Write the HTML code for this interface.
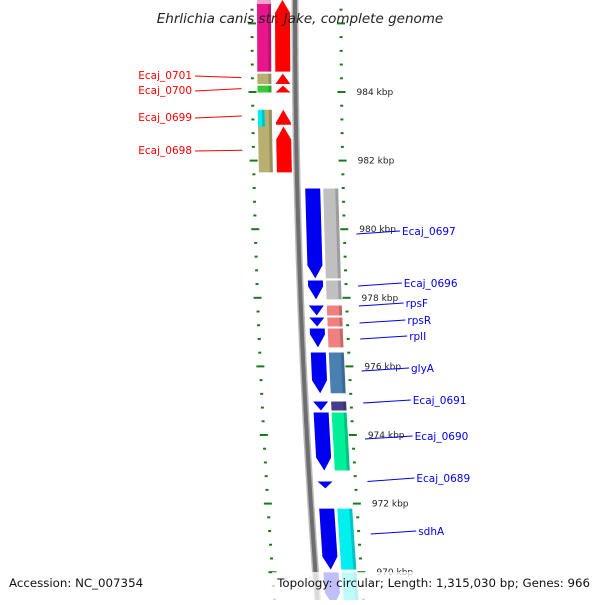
<!DOCTYPE html>
<html><head><meta charset="utf-8"><style>
body{margin:0;background:#fff}
svg text{font-family:"DejaVu Sans","Liberation Sans",sans-serif}
</style></head><body>
<svg id="map" width="600" height="600" viewBox="0 0 600 600" xmlns="http://www.w3.org/2000/svg"></svg>
<script>
// ---- data (kbp) ----
const tickStartKbp = 969.2;
const tickEndKbp = 987.0;
const tickStepKbp = 0.4;
const tickLabels = [984, 982, 980, 978, 976, 974, 972, 970];
// left strand genes (arrow pointing up)
const leftNames = ["", "Ecaj_0701", "Ecaj_0700", "Ecaj_0699", "Ecaj_0698"];
const leftStart = [986.7, 984.55, 984.20, 983.50, 983.01];
const leftEnd   = [984.58, 984.22, 983.97, 983.03, 981.64];
const leftColors = ["#e8168a", "#b8b070", "#38c838", "#b8b070", "#b8b070"];
// right strand genes (arrow pointing down)
const rightNames = ["Ecaj_0697", "Ecaj_0696", "rpsF", "rpsR", "rplI", "glyA", "Ecaj_0691", "Ecaj_0690", "Ecaj_0689", "sdhA", ""];
const rightStart = [981.20, 978.52, 977.79, 977.44, 977.12, 976.42, 974.99, 974.67, 972.66, 971.87, 970.01];
const rightEnd   = [978.55, 977.94, 977.47, 977.15, 976.54, 975.20, 974.70, 972.95, 972.43, 970.06, 969.0];
const rightColors = ["#c0c0c0", "#c0c0c0", "#f08080", "#f08080", "#f08080", "#4a80b0", "#483d8b", "#00f09a", null, "#00f0f0", "#00f0f0"];
// label positions
const leftLabelY = [null, 76, 91, 118, 151];
const leftLabelAnchorKbp = [null, 984.42, 984.10, 983.3, 982.3];
const rightLabelY = [231, 283, 303, 320, 336, 368, 400, 436, 478, 531, null];

// ---- axis functions ----
const Y0 = 92, K0 = 984, PX = 34.3;
function yOf(k){ return Y0 + (K0 - k) * PX; }
function bb(y){ return 295 + 6.25e-5 * y * y; }

const svg = document.getElementById('map');
const NS = "http://www.w3.org/2000/svg";
function mk(tag, attrs){ const e = document.createElementNS(NS, tag); for (const a in attrs) e.setAttribute(a, attrs[a]); svg.appendChild(e); return e; }
function pts(arr){ return arr.map(p => p[0].toFixed(1) + "," + p[1].toFixed(1)).join(" "); }

// backbone
let bpath = "";
for (let y = -5; y <= 605; y += 5) bpath += (y === -5 ? "M" : "L") + bb(y).toFixed(1) + "," + y;
let e = mk("path", {d: bpath, stroke: "#b8b8b8", "stroke-width": 7, fill: "none"});


e = mk("path", {d: bpath, stroke: "#6e6e6e", "stroke-width": 4, fill: "none"});



// ticks
const nTicks = Math.round((tickEndKbp - tickStartKbp) / tickStepKbp);
for (let i = 0; i <= nTicks; i++) {
  const k = tickStartKbp + i * tickStepKbp;
  const y = yOf(k);
  const k10 = Math.round(k * 10);
  const major = k10 % 20 === 0;
  [-43, 46].forEach(d => {
    const x = bb(y) + d;
    const r = mk("rect", {x: major ? x - 4 : x - 1.5, y: y - 1, width: major ? 8 : 3, height: 2, fill: "#1a7a1a"});
    
    
  });
}
tickLabels.forEach(k => {
  const y = yOf(k);
  const t = mk("text", {x: bb(y) + 61, y: y + 3, "font-size": 9, fill: "#222"});
  t.textContent = k + " kbp";
  
  
});

function bar(y1, y2, d1, d2, color, name){
  const p = mk("polygon", {points: pts([[bb(y1)+d1,y1],[bb(y1)+d2,y1],[bb(y2)+d2,y2],[bb(y2)+d1,y2]]), fill: color});
  
  
  const s = mk("polygon", {points: pts([[bb(y1)+d2-3,y1],[bb(y1)+d2,y1],[bb(y2)+d2,y2],[bb(y2)+d2-3,y2]]), fill: "rgba(0,0,0,0.18)"});
  
  
}
function arrow(y1, y2, d1, d2, color, up, name){
  const head = Math.min(13, y2 - y1);
  let P;
  const m = (d1 + d2) / 2;
  if (up) {
    const yh = y1 + head;
    P = [[bb(y1)+m,y1],[bb(yh)+d2,yh],[bb(y2)+d2,y2],[bb(y2)+d1,y2],[bb(yh)+d1,yh]];
  } else {
    const yh = y2 - head;
    P = [[bb(y1)+d1,y1],[bb(y1)+d2,y1],[bb(yh)+d2,yh],[bb(y2)+m,y2],[bb(yh)+d1,yh]];
  }
  const p = mk("polygon", {points: pts(P), fill: color});
  
  
}

// left genes
leftNames.forEach((n, i) => {
  const y1 = yOf(leftStart[i]) + 0.5, y2 = yOf(leftEnd[i]) - 0.5;
  if (i === 3) {
    bar(y1, y1 + 17, -38, -31, "#00f0f0", "gene-bar-left-cyan");
    bar(y1, y1 + 17, -31, -24, leftColors[i], "gene-bar-left");
  } else bar(y1, y2, -38, -24, leftColors[i], "gene-bar-left");
  arrow(y1, y2, -20, -5, "#ff0000", true, "gene-arrow-left");
  if (n) {
    const ly = leftLabelY[i], ay = yOf(leftLabelAnchorKbp[i]);
    const l = mk("line", {x1: 195, y1: ly, x2: bb(ay) - 54, y2: ay, stroke: "#ff0000", "stroke-width": 1});
    
    
    const t = mk("text", {x: 192, y: ly + 3, "font-size": 10.5, fill: "#ff0000", "text-anchor": "end"});
    t.textContent = n;
    
    
  }
});
// pale top of first left gene
e = mk("rect", {x: 257, y: 0, width: 14, height: 4, fill: "rgba(255,255,255,0.6)"});



// right genes
rightNames.forEach((n, i) => {
  const y1 = yOf(rightStart[i]) + 0.5, y2 = yOf(rightEnd[i]) - 0.5;
  if (rightColors[i]) bar(y1, y2, 26, 41, rightColors[i], "gene-bar-right");
  arrow(y1, y2, 8, 23, "#0000f0", false, "gene-arrow-right");
  if (n) {
    const ly = rightLabelY[i];
    const ay = Math.min(Math.max(ly + 3, y1), y2);
    const lx = bb(ay) + 58;
    const l = mk("line", {x1: lx, y1: ay, x2: 400 + i * 1.8, y2: ly, stroke: "#0000f0", "stroke-width": 1});
    
    
    const t = mk("text", {x: 402 + i * 1.8, y: ly + 4, "font-size": 10.5, fill: "#0000f0"});
    t.textContent = n;
    
    
  }
});

// title & footer
e = mk("text", {x: 300, y: 23, "font-size": 13.5, "font-style": "italic", "text-anchor": "middle", fill: "#222"});
e.textContent = "Ehrlichia canis str. Jake, complete genome";


e = mk("rect", {x: 272, y: 572, width: 328, height: 28, fill: "rgba(255,255,255,0.75)"});


e = mk("text", {x: 9, y: 587, "font-size": 11.8, fill: "#111"});
e.textContent = "Accession: NC_007354";


e = mk("text", {x: 590, y: 587, "font-size": 11.8, fill: "#111", "text-anchor": "end"});
e.textContent = "Topology: circular; Length: 1,315,030 bp; Genes: 966";


</script>
</body></html>
